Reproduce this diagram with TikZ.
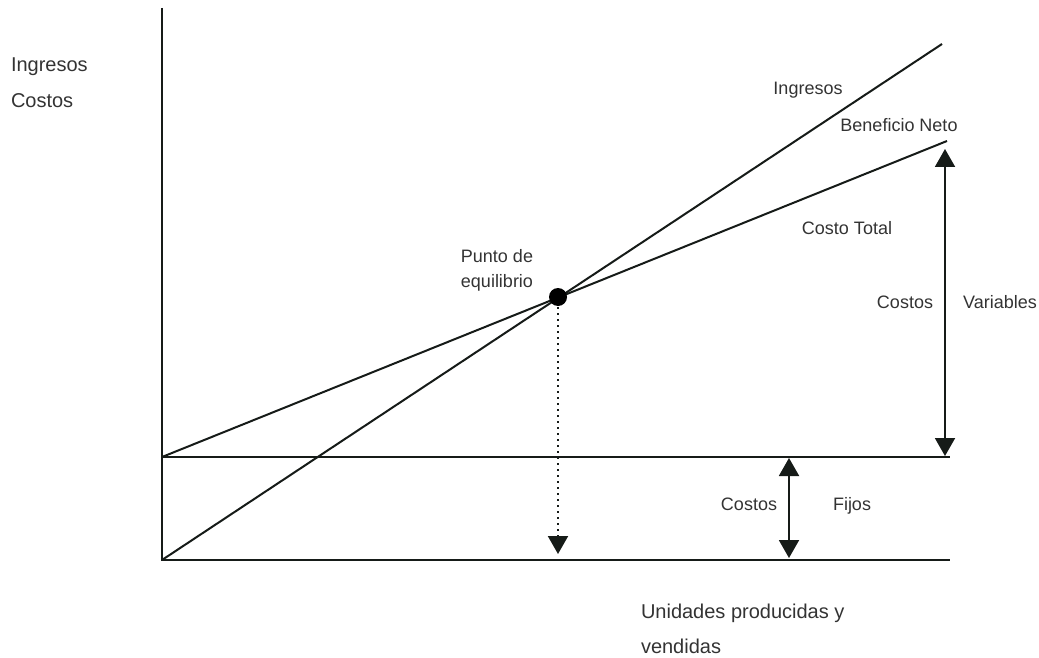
\documentclass[tikz,border=0pt]{standalone}
\usepackage{fontspec}
\setmainfont{Liberation Sans}
\usetikzlibrary{arrows.meta}
\definecolor{ink}{HTML}{161B18}
\definecolor{txt}{HTML}{333333}
\begin{document}
\begin{tikzpicture}[x=0.5pt, y=-0.5pt, line width=1pt, ink,
  lbl/.style={text=txt, inner sep=0pt, font=\fontsize{9}{12.5}\selectfont, align=center},
  axlbl/.style={text=txt, inner sep=0pt, font=\fontsize{10}{18}\selectfont, align=left},
  tip/.style={-{Triangle[width=10pt,length=9pt]}},
  dtip/.style={{Triangle[width=10pt,length=9pt]}-{Triangle[width=10pt,length=9pt]}}]
  \useasboundingbox (0,0) rectangle (1039,658);
  % axes
  \coordinate (top) at (162,8);
  \coordinate (o) at (162,560);
  \coordinate (xend) at (950,560);
  \coordinate (f0) at (162,457);
  \coordinate (f1) at (950,457);
  \coordinate (i1) at (942,44);
  \coordinate (c1) at (947,141);
  \draw (top) -- (o) -- (xend);
  \draw (f0) -- (f1);
  \draw (o) -- (i1);
  \draw (f0) -- (c1);
  % break-even point
  \node[circle, fill=black, minimum size=9pt, inner sep=0pt] (pe) at (558,297) {};
  \coordinate (pe0) at (558,554);
  \draw[dotted, tip] (pe) -- (pe0);
  % cost arrows
  \coordinate (v0) at (945,149);
  \coordinate (v1) at (945,456);
  \draw[dtip] (v0) -- (v1);
  \coordinate (k0) at (789,458);
  \coordinate (k1) at (789,558);
  \draw[dtip] (k0) -- (k1);
  % labels
  \node[axlbl, anchor=north west] (ylab) at (10,57) {Ingresos\\Costos};
  \node[axlbl, anchor=north west, font=\fontsize{10}{17.5}\selectfont] (xlab) at (640,603) {Unidades producidas y\\vendidas};
  \node[lbl] (ing) at (808,90) {Ingresos};
  \node[lbl] (ben) at (899,125) {Beneficio Neto};
  \node[lbl] (ct) at (847,228) {Costo Total};
  \node[lbl] (pl) at (497,270) {Punto de\\equilibrio};
  \node[lbl] (cv) at (905,302) {Costos};
  \node[lbl] (var) at (1000,302) {Variables};
  \node[lbl, anchor=base] (cf) at (749,510) {Costos};
  \node[lbl, anchor=base] (fij) at (852,510) {Fijos};
\end{tikzpicture}
\end{document}
